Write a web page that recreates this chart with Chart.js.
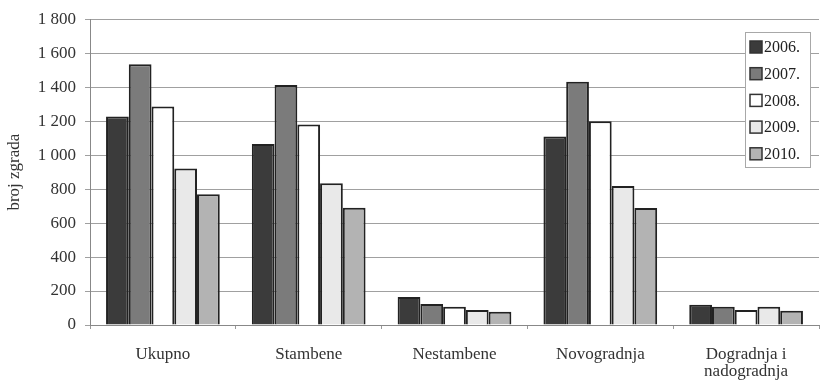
<!DOCTYPE html>
<html>
<head>
<meta charset="utf-8">
<script src="https://cdn.jsdelivr.net/npm/chart.js@4"></script>
<style>
  html, body { margin: 0; padding: 0; background: #fff; }
  #wrap { width: 824px; height: 380px; position: relative; }
</style>
</head>
<body>
<div id="wrap"><canvas id="chart_zgrade"></canvas></div>
<script>
const categories = ["Ukupno", "Stambene", "Nestambene", "Novogradnja", ["Dogradnja i", "nadogradnja"]];
const years = ["2006.", "2007.", "2008.", "2009.", "2010."];
const values2006 = [1227, 1066, 165, 1110, 119];
const values2007 = [1535, 1413, 123, 1432, 107];
const values2008 = [1286, 1180, 107, 1200, 88];
const values2009 = [921, 834, 88, 818, 107];
const values2010 = [770, 690, 78, 688, 84];
const yTicks = [0, 200, 400, 600, 800, 1000, 1200, 1400, 1600, 1800];

const fills = ["#3b3b3b", "#7b7b7b", "#ffffff", "#e9e9e9", "#b3b3b3"];
const font = "'Liberation Serif', 'DejaVu Serif', serif";

// legend drawn inside the plot, as in the original
const boxLegend = {
  id: "boxLegend",
  afterDraw(chart) {
    const ctx = chart.ctx;
    ctx.save();
    ctx.strokeStyle = "#a8a8a8";
    ctx.lineWidth = 1;
    ctx.fillStyle = "#fff";
    ctx.fillRect(745, 32, 65, 135);
    ctx.strokeRect(745.5, 32.5, 65, 135);
    chart.data.datasets.forEach((ds, i) => {
      const y = 47 + i * 26.7;
      ctx.fillStyle = ds.backgroundColor;
      ctx.fillRect(750, y - 6, 12, 12);
      ctx.strokeStyle = "#333";
      ctx.lineWidth = 1.5;
      ctx.strokeRect(750, y - 6, 12, 12);
      ctx.fillStyle = "#222";
      ctx.font = "16px " + font;
      ctx.textBaseline = "middle";
      ctx.fillText(ds.label, 764, y + 1);
    });
    ctx.restore();
  },
};

const series = [values2006, values2007, values2008, values2009, values2010];

new Chart(document.getElementById("chart_zgrade"), {
  type: "bar",
  data: {
    labels: categories,
    datasets: series.map((vals, i) => ({
      label: years[i],
      data: vals,
      backgroundColor: fills[i],
      borderColor: "#222",
      borderWidth: 2,
      borderSkipped: "bottom",
      categoryPercentage: 0.78,
      barPercentage: 1,
    })),
  },
  options: {
    responsive: true,
    maintainAspectRatio: false,
    animation: false,
    layout: { padding: { top: 13, right: 5, left: 0, bottom: 0 } },
    plugins: {
      legend: { display: false },
      tooltip: { enabled: false },
    },
    scales: {
      x: {
        grid: { display: true, drawOnChartArea: false, color: "#999", tickLength: 4, offset: true },
        border: { color: "#888" },
        ticks: { color: "#333", font: { family: font, size: 17, lineHeight: 1.0 }, padding: 17, maxRotation: 0 },
        afterFit(scale) { scale.height = 55; },
      },
      y: {
        min: 0,
        max: 1800,
        afterBuildTicks(scale) { scale.ticks = yTicks.map(v => ({ value: v })); },
        grid: { color: "#a0a0a0", tickLength: 5, lineWidth: 1 },
        border: { color: "#888" },
        ticks: {
          color: "#333",
          font: { family: font, size: 17 },
          padding: 9,
          callback: v => String(v).replace(/\B(?=(\d{3})+(?!\d))/g, " "),
        },
        title: { display: true, text: "broj zgrada", color: "#333", font: { family: font, size: 17 }, padding: { top: 4, bottom: 0 } },
        afterFit(scale) { scale.width = 90; },
      },
    },
  },
  plugins: [boxLegend],
});
</script>
</body>
</html>
